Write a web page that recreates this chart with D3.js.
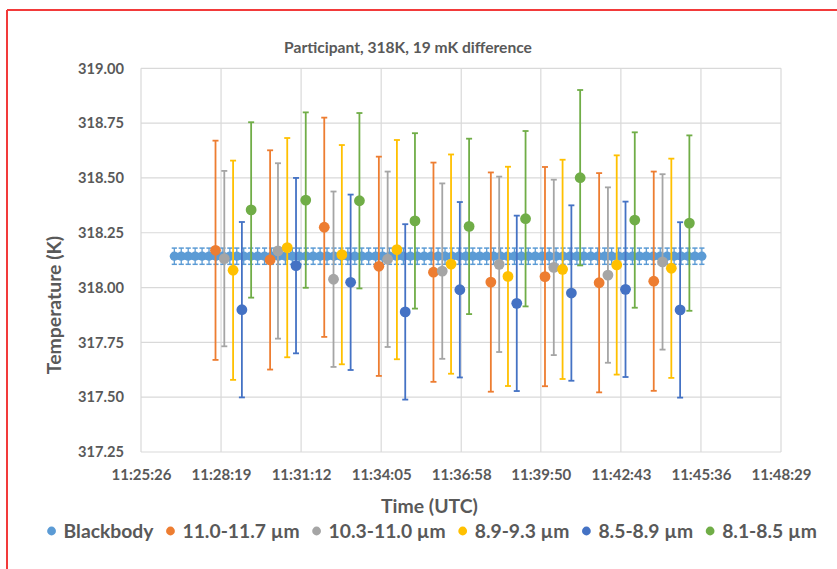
<!DOCTYPE html>
<html>
<head>
<meta charset="utf-8">
<script src="https://cdn.jsdelivr.net/npm/d3@7"></script>
<style>
  html, body { margin: 0; padding: 0; background: #fff; }
  svg { display: block; }
  text { font-family: Lato, "Open Sans", sans-serif; font-weight: 700; fill: #595959; }
</style>
</head>
<body>
<svg id="chart" width="837" height="569"></svg>
<script>
// ---------- data ----------
const chartTitle = "Participant, 318K, 19 mK difference";
const xTitle = "Time (UTC)";
const yTitle = "Temperature (K)";
const xTickLabels = ["11:25:26","11:28:19","11:31:12","11:34:05","11:36:58","11:39:50","11:42:43","11:45:36","11:48:29"];
const yTickValues = [317.25, 317.50, 317.75, 318.00, 318.25, 318.50, 318.75, 319.00];

const seriesNames  = ["Blackbody","11.0-11.7 µm","10.3-11.0 µm","8.9-9.3 µm","8.5-8.9 µm","8.1-8.5 µm"];
const seriesColors = ["#5B9BD5","#ED7D31","#A5A5A5","#FFC000","#4472C4","#70AD47"];
const seriesErrors = [0.037, 0.5, 0.4, 0.5, 0.4, 0.4];

const blackbodyTimes = ["11:26:38","11:26:53","11:27:08","11:27:23","11:27:38","11:27:53","11:28:08","11:28:23","11:28:38","11:28:53",
  "11:29:08","11:29:23","11:29:38","11:29:53","11:30:08","11:30:23","11:30:38","11:30:53","11:31:08","11:31:23",
  "11:31:38","11:31:53","11:32:08","11:32:23","11:32:38","11:32:53","11:33:08","11:33:23","11:33:38","11:33:53",
  "11:34:08","11:34:23","11:34:38","11:34:53","11:35:08","11:35:23","11:35:38","11:35:53","11:36:08","11:36:23",
  "11:36:38","11:36:53","11:37:08","11:37:23","11:37:38","11:37:53","11:38:08","11:38:23","11:38:38","11:38:53",
  "11:39:08","11:39:23","11:39:38","11:39:53","11:40:08","11:40:23","11:40:38","11:40:53","11:41:08","11:41:23",
  "11:41:38","11:41:53","11:42:08","11:42:23","11:42:38","11:42:53","11:43:08","11:43:23","11:43:38","11:43:53",
  "11:44:08","11:44:23","11:44:38","11:44:53","11:45:08","11:45:23","11:45:38"];
const blackbodyValues = [318.143,318.143,318.143,318.143,318.143,318.143,318.143,318.143,318.143,318.143,
  318.143,318.143,318.143,318.143,318.143,318.143,318.143,318.143,318.143,318.143,
  318.143,318.143,318.143,318.143,318.143,318.143,318.143,318.143,318.143,318.143,
  318.143,318.143,318.143,318.143,318.143,318.143,318.143,318.143,318.143,318.143,
  318.143,318.143,318.143,318.143,318.143,318.143,318.143,318.143,318.143,318.143,
  318.143,318.143,318.143,318.143,318.143,318.143,318.143,318.143,318.143,318.143,
  318.143,318.143,318.143,318.143,318.143,318.143,318.143,318.143,318.143,318.143,
  318.143,318.143,318.143,318.143,318.143,318.143,318.143];

const orangeTimes  = ["11:28:07","11:30:05","11:32:02","11:34:00","11:35:58","11:38:02","11:39:59","11:41:56","11:43:54"];
const orangeValues = [318.170,318.126,318.275,318.097,318.070,318.025,318.050,318.022,318.029];
const grayTimes    = ["11:28:26","11:30:22","11:32:22","11:34:19","11:36:17","11:38:20","11:40:18","11:42:15","11:44:13"];
const grayValues   = [318.132,318.167,318.038,318.129,318.075,318.106,318.092,318.057,318.117];
const yellowTimes  = ["11:28:45","11:30:42","11:32:40","11:34:39","11:36:36","11:38:39","11:40:37","11:42:34","11:44:32"];
const yellowValues = [318.079,318.182,318.150,318.173,318.107,318.051,318.083,318.103,318.088];
const blueTimes    = ["11:29:04","11:31:01","11:32:59","11:34:57","11:36:55","11:38:58","11:40:56","11:42:53","11:44:51"];
const blueValues   = [317.899,318.100,318.024,317.889,317.990,317.928,317.975,317.992,317.898];
const greenTimes   = ["11:29:24","11:31:22","11:33:18","11:35:18","11:37:15","11:39:17","11:41:15","11:43:13","11:45:11"];
const greenValues  = [318.354,318.399,318.396,318.304,318.279,318.314,318.501,318.308,318.294];

// ---------- helpers ----------
const toSec = s => { const [h,m,c] = s.split(":").map(Number); return h*3600 + m*60 + c; };
const zip = (ts, vs) => ts.map((t, i) => ({ t: toSec(t), v: vs[i] }));
const series = [
  zip(blackbodyTimes, blackbodyValues),
  zip(orangeTimes, orangeValues),
  zip(grayTimes, grayValues),
  zip(yellowTimes, yellowValues),
  zip(blueTimes, blueValues),
  zip(greenTimes, greenValues)
];
function fitWidth(sel, target) {
  const w = sel.node().getComputedTextLength();
  const fs = parseFloat(sel.attr("font-size"));
  const nf = fs * target / w;
  sel.attr("font-size", nf);
  return nf;
}

// ---------- layout ----------
const svg = d3.select("#chart");
const plot = { left: 141, right: 781, top: 68.3, bottom: 452 };

svg.append("rect").attr("width", 837).attr("height", 569).attr("fill", "#fff");
// red frame (top and left)
svg.append("line").attr("x1", 7).attr("x2", 837).attr("y1", 10).attr("y2", 10)
  .attr("stroke", "#F23A3A").attr("stroke-width", 2);
svg.append("line").attr("x1", 7).attr("x2", 7).attr("y1", 10).attr("y2", 569)
  .attr("stroke", "#F23A3A").attr("stroke-width", 2);

const xTickSecs = xTickLabels.map(toSec);
const x = d3.scaleLinear().domain([xTickSecs[0], xTickSecs[xTickSecs.length - 1]]).range([plot.left, plot.right]);
const y = d3.scaleLinear().domain([yTickValues[0], yTickValues[yTickValues.length - 1]]).range([plot.bottom, plot.top]);

// gridlines
const grid = svg.append("g");
grid.selectAll("line.h").data(yTickValues).join("line")
  .attr("x1", plot.left).attr("x2", plot.right)
  .attr("y1", d => y(d)).attr("y2", d => y(d))
  .attr("stroke", "#D9D9D9").attr("stroke-width", 1.2);
grid.selectAll("line.v").data(xTickSecs).join("line")
  .attr("x1", d => x(d)).attr("x2", d => x(d))
  .attr("y1", plot.top).attr("y2", plot.bottom)
  .attr("stroke", "#D9D9D9").attr("stroke-width", 1.2);

// axes (labels only, Excel style)
const yAxis = svg.append("g").attr("transform", `translate(${plot.left},0)`)
  .call(d3.axisLeft(y).tickValues(yTickValues).tickFormat(d => d.toFixed(2)).tickSize(0).tickPadding(17));
yAxis.select(".domain").remove();
const yt = yAxis.selectAll("text").attr("font-size", 14).attr("font-family", null).attr("fill", null);
const yfs = fitWidth(d3.select(yt.nodes()[yt.size() - 1]), 46);
yt.attr("font-size", yfs);

const xAxis = svg.append("g").attr("transform", `translate(0,${plot.bottom})`)
  .call(d3.axisBottom(x).tickValues(xTickSecs).tickFormat((d, i) => xTickLabels[i]).tickSize(0).tickPadding(17));
xAxis.select(".domain").remove();
const xt = xAxis.selectAll("text").attr("font-size", 14).attr("font-family", null).attr("fill", null);
const xfs = fitWidth(d3.select(xt.nodes()[0]), 60);
xt.attr("font-size", xfs);

// titles
const title = svg.append("text").attr("x", 408).attr("y", 53).attr("text-anchor", "middle")
  .attr("font-size", 14).text(chartTitle);
fitWidth(title, 248);

const xt2 = svg.append("text").attr("x", 429.5).attr("y", 513).attr("text-anchor", "middle")
  .attr("font-size", 16).text(xTitle);
const axfs = fitWidth(xt2, 97);

svg.append("text").attr("transform", "translate(61,305) rotate(-90)").attr("text-anchor", "middle")
  .attr("font-size", axfs).text(yTitle);

// ---------- series ----------
const layer = svg.append("g");
// blackbody
(function () {
  const d = series[0], c = seriesColors[0], e = seriesErrors[0];
  const g = layer.append("g");
  g.selectAll("line.eb").data(d).join("line")
    .attr("x1", p => x(p.t)).attr("x2", p => x(p.t))
    .attr("y1", p => y(p.v - e)).attr("y2", p => y(p.v + e))
    .attr("stroke", c).attr("stroke-width", 1.3);
  g.selectAll("line.cap").data(d.flatMap(p => [p.v - e, p.v + e].map(v => ({ t: p.t, v })))).join("line")
    .attr("x1", p => x(p.t) - 2.6).attr("x2", p => x(p.t) + 2.6)
    .attr("y1", p => y(p.v)).attr("y2", p => y(p.v))
    .attr("stroke", c).attr("stroke-width", 1.5);
  g.append("path").datum(d)
    .attr("d", d3.line().x(p => x(p.t)).y(p => y(p.v)))
    .attr("fill", "none").attr("stroke", c).attr("stroke-width", 7).attr("stroke-linecap", "round");
  g.selectAll("circle").data(d).join("circle")
    .attr("cx", p => x(p.t)).attr("cy", p => y(p.v)).attr("r", 4.6).attr("fill", c);
})();

for (let s = 1; s < series.length; s++) {
  const d = series[s], c = seriesColors[s], e = seriesErrors[s];
  const g = layer.append("g");
  g.selectAll("line.eb").data(d).join("line")
    .attr("x1", p => x(p.t)).attr("x2", p => x(p.t))
    .attr("y1", p => y(p.v - e)).attr("y2", p => y(p.v + e))
    .attr("stroke", c).attr("stroke-width", 1.8);
  g.selectAll("line.cap").data(d.flatMap(p => [p.v - e, p.v + e].map(v => ({ t: p.t, v })))).join("line")
    .attr("x1", p => x(p.t) - 3).attr("x2", p => x(p.t) + 3)
    .attr("y1", p => y(p.v)).attr("y2", p => y(p.v))
    .attr("stroke", c).attr("stroke-width", 1.8);
  g.selectAll("circle").data(d).join("circle")
    .attr("cx", p => x(p.t)).attr("cy", p => y(p.v)).attr("r", 5.4).attr("fill", c);
}

// ---------- legend ----------
const legend = svg.append("g");
const items = seriesNames.map((name, i) => {
  const gi = legend.append("g");
  gi.append("circle").attr("r", 4.4).attr("fill", seriesColors[i]);
  const t = gi.append("text").attr("x", 12).attr("y", 0).attr("dy", "0.35em").attr("font-size", 17).text(name);
  return { gi, t };
});
// fit the first label to the measured width, apply same size to all
const lfs = fitWidth(items[0].t, 90);
items.forEach(it => it.t.attr("font-size", lfs));
const widths = items.map(it => 12 + it.t.node().getComputedTextLength());
const gap = 17;
const total = d3.sum(widths) + gap * (items.length - 1) + 4.4;
let cx = 432 - total / 2 + 4.4;
items.forEach((it, i) => {
  it.gi.attr("transform", `translate(${cx},531)`);
  cx += widths[i] + gap;
});
</script>
</body>
</html>
